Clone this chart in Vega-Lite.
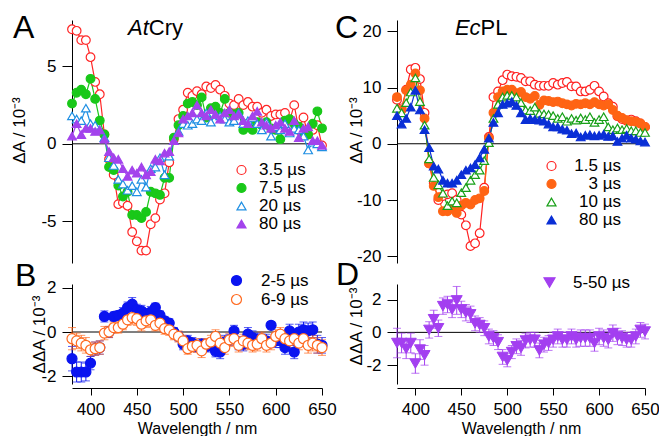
{
"$schema":"https://vega.github.io/schema/vega-lite/v6.json",
"padding":{"left":10,"top":11,"right":0,"bottom":0},
"bounds":"flush",
"columns":2,
"spacing":{"row":21,"column":75},
"resolve":{"scale":{"color":"independent","stroke":"independent","fill":"independent","shape":"independent","x":"independent","y":"independent"},"legend":{"color":"independent","stroke":"independent","fill":"independent","shape":"independent"}},
"config":{
 "font":"Liberation Sans",
 "view":{"stroke":null},
 "axis":{"grid":false,"domainColor":"black","tickColor":"black","labelColor":"black","titleColor":"black","labelFont":"Liberation Sans","titleFont":"Liberation Sans","labelFontSize":17,"titleFontWeight":"normal","labelFlush":false,"labelOverlap":false,"labelBound":false},
 "axisY":{"tickSize":10,"labelPadding":6,"titleFontSize":17},
 "axisX":{"tickSize":7,"labelPadding":6,"titlePadding":3,"titleFontSize":16,"offset":4},
 "legend":{"labelFont":"Liberation Sans","labelFontSize":17,"labelColor":"black","padding":0,"rowPadding":0,"symbolStrokeWidth":1.2},
 "title":{"font":"Liberation Sans","fontSize":32,"fontWeight":"normal","anchor":"start","frame":"group","color":"black","baseline":"alphabetic"}
},
"datasets":{
"A":[
{"w":380,"s":"3.5 µs","v":7.4},{"w":385,"s":"3.5 µs","v":7.3},{"w":390,"s":"3.5 µs","v":6.7},{"w":395,"s":"3.5 µs","v":6.7},{"w":400,"s":"3.5 µs","v":5.6},{"w":405,"s":"3.5 µs","v":4.0},{"w":410,"s":"3.5 µs","v":3.2},{"w":415,"s":"3.5 µs","v":0.6},{"w":420,"s":"3.5 µs","v":-1.0},{"w":425,"s":"3.5 µs","v":-2.0},{"w":430,"s":"3.5 µs","v":-3.9},{"w":435,"s":"3.5 µs","v":-3.8},{"w":440,"s":"3.5 µs","v":-4.0},{"w":445,"s":"3.5 µs","v":-5.7},{"w":450,"s":"3.5 µs","v":-6.3},{"w":455,"s":"3.5 µs","v":-6.9},{"w":460,"s":"3.5 µs","v":-6.9},{"w":465,"s":"3.5 µs","v":-5.2},{"w":470,"s":"3.5 µs","v":-4.8},{"w":475,"s":"3.5 µs","v":-3.6},{"w":480,"s":"3.5 µs","v":-3.2},{"w":485,"s":"3.5 µs","v":-1.2},{"w":490,"s":"3.5 µs","v":0.3},{"w":495,"s":"3.5 µs","v":1.6},{"w":500,"s":"3.5 µs","v":2.2},{"w":505,"s":"3.5 µs","v":3.3},{"w":510,"s":"3.5 µs","v":3.1},{"w":515,"s":"3.5 µs","v":3.4},{"w":520,"s":"3.5 µs","v":3.2},{"w":525,"s":"3.5 µs","v":3.7},{"w":530,"s":"3.5 µs","v":3.6},{"w":535,"s":"3.5 µs","v":3.8},{"w":540,"s":"3.5 µs","v":3.5},{"w":545,"s":"3.5 µs","v":3.1},{"w":550,"s":"3.5 µs","v":2.6},{"w":555,"s":"3.5 µs","v":2.5},{"w":560,"s":"3.5 µs","v":2.9},{"w":565,"s":"3.5 µs","v":2.5},{"w":570,"s":"3.5 µs","v":2.7},{"w":575,"s":"3.5 µs","v":2.4},{"w":580,"s":"3.5 µs","v":2.4},{"w":585,"s":"3.5 µs","v":2.0},{"w":590,"s":"3.5 µs","v":2.2},{"w":595,"s":"3.5 µs","v":1.8},{"w":600,"s":"3.5 µs","v":1.9},{"w":605,"s":"3.5 µs","v":1.9},{"w":610,"s":"3.5 µs","v":2.0},{"w":615,"s":"3.5 µs","v":1.5},{"w":620,"s":"3.5 µs","v":2.5},{"w":625,"s":"3.5 µs","v":0.9},{"w":630,"s":"3.5 µs","v":1.7},{"w":635,"s":"3.5 µs","v":0.6},{"w":640,"s":"3.5 µs","v":0.9},{"w":645,"s":"3.5 µs","v":1.2},{"w":650,"s":"3.5 µs","v":-0.1},
{"w":380,"s":"7.5 µs","v":2.6},{"w":385,"s":"7.5 µs","v":3.3},{"w":390,"s":"7.5 µs","v":3.5},{"w":395,"s":"7.5 µs","v":3.2},{"w":400,"s":"7.5 µs","v":4.2},{"w":405,"s":"7.5 µs","v":2.9},{"w":410,"s":"7.5 µs","v":1.5},{"w":415,"s":"7.5 µs","v":0.6},{"w":420,"s":"7.5 µs","v":-1.5},{"w":425,"s":"7.5 µs","v":-1.7},{"w":430,"s":"7.5 µs","v":-2.7},{"w":435,"s":"7.5 µs","v":-3.4},{"w":440,"s":"7.5 µs","v":-3.1},{"w":445,"s":"7.5 µs","v":-4.6},{"w":450,"s":"7.5 µs","v":-4.6},{"w":455,"s":"7.5 µs","v":-4.8},{"w":460,"s":"7.5 µs","v":-4.4},{"w":465,"s":"7.5 µs","v":-3.1},{"w":470,"s":"7.5 µs","v":-3.2},{"w":475,"s":"7.5 µs","v":-3.3},{"w":480,"s":"7.5 µs","v":-2.2},{"w":485,"s":"7.5 µs","v":-2.2},{"w":490,"s":"7.5 µs","v":0.4},{"w":495,"s":"7.5 µs","v":1.2},{"w":500,"s":"7.5 µs","v":1.8},{"w":505,"s":"7.5 µs","v":2.6},{"w":510,"s":"7.5 µs","v":2.7},{"w":515,"s":"7.5 µs","v":2.5},{"w":520,"s":"7.5 µs","v":3.0},{"w":525,"s":"7.5 µs","v":1.7},{"w":530,"s":"7.5 µs","v":2.3},{"w":535,"s":"7.5 µs","v":2.4},{"w":540,"s":"7.5 µs","v":2.0},{"w":545,"s":"7.5 µs","v":2.9},{"w":550,"s":"7.5 µs","v":2.0},{"w":555,"s":"7.5 µs","v":1.9},{"w":560,"s":"7.5 µs","v":2.0},{"w":565,"s":"7.5 µs","v":0.9},{"w":570,"s":"7.5 µs","v":1.3},{"w":575,"s":"7.5 µs","v":0.9},{"w":580,"s":"7.5 µs","v":1.4},{"w":585,"s":"7.5 µs","v":1.2},{"w":590,"s":"7.5 µs","v":1.4},{"w":595,"s":"7.5 µs","v":1.0},{"w":600,"s":"7.5 µs","v":0.9},{"w":605,"s":"7.5 µs","v":0.3},{"w":610,"s":"7.5 µs","v":1.5},{"w":615,"s":"7.5 µs","v":1.6},{"w":620,"s":"7.5 µs","v":1.3},{"w":625,"s":"7.5 µs","v":1.1},{"w":630,"s":"7.5 µs","v":0.7},{"w":635,"s":"7.5 µs","v":0.6},{"w":640,"s":"7.5 µs","v":1.3},{"w":645,"s":"7.5 µs","v":2.1},{"w":650,"s":"7.5 µs","v":1.0},
{"w":380,"s":"20 µs","v":1.8},{"w":385,"s":"20 µs","v":1.6},{"w":390,"s":"20 µs","v":1.5},{"w":395,"s":"20 µs","v":2.3},{"w":400,"s":"20 µs","v":1.3},{"w":405,"s":"20 µs","v":1.2},{"w":410,"s":"20 µs","v":0.9},{"w":415,"s":"20 µs","v":0.4},{"w":420,"s":"20 µs","v":-0.9},{"w":425,"s":"20 µs","v":-1.4},{"w":430,"s":"20 µs","v":-2.3},{"w":435,"s":"20 µs","v":-2.6},{"w":440,"s":"20 µs","v":-3.0},{"w":445,"s":"20 µs","v":-2.7},{"w":450,"s":"20 µs","v":-3.1},{"w":455,"s":"20 µs","v":-2.3},{"w":460,"s":"20 µs","v":-2.8},{"w":465,"s":"20 µs","v":-1.6},{"w":470,"s":"20 µs","v":-1.5},{"w":475,"s":"20 µs","v":-0.9},{"w":480,"s":"20 µs","v":-2.0},{"w":485,"s":"20 µs","v":-0.8},{"w":490,"s":"20 µs","v":0.2},{"w":495,"s":"20 µs","v":0.8},{"w":500,"s":"20 µs","v":1.3},{"w":505,"s":"20 µs","v":1.2},{"w":510,"s":"20 µs","v":1.3},{"w":515,"s":"20 µs","v":1.6},{"w":520,"s":"20 µs","v":1.5},{"w":525,"s":"20 µs","v":2.0},{"w":530,"s":"20 µs","v":1.4},{"w":535,"s":"20 µs","v":1.9},{"w":540,"s":"20 µs","v":1.8},{"w":545,"s":"20 µs","v":1.6},{"w":550,"s":"20 µs","v":1.4},{"w":555,"s":"20 µs","v":1.5},{"w":560,"s":"20 µs","v":2.0},{"w":565,"s":"20 µs","v":1.3},{"w":570,"s":"20 µs","v":1.5},{"w":575,"s":"20 µs","v":1.7},{"w":580,"s":"20 µs","v":1.3},{"w":585,"s":"20 µs","v":0.9},{"w":590,"s":"20 µs","v":1.4},{"w":595,"s":"20 µs","v":0.5},{"w":600,"s":"20 µs","v":1.1},{"w":605,"s":"20 µs","v":0.9},{"w":610,"s":"20 µs","v":1.3},{"w":615,"s":"20 µs","v":0.7},{"w":620,"s":"20 µs","v":1.0},{"w":625,"s":"20 µs","v":0.9},{"w":630,"s":"20 µs","v":0.5},{"w":635,"s":"20 µs","v":-0.4},{"w":640,"s":"20 µs","v":0.1},{"w":645,"s":"20 µs","v":0.0},{"w":650,"s":"20 µs","v":-0.2},
{"w":380,"s":"80 µs","v":0.5},{"w":385,"s":"80 µs","v":1.3},{"w":390,"s":"80 µs","v":0.6},{"w":395,"s":"80 µs","v":1.0},{"w":400,"s":"80 µs","v":1.0},{"w":405,"s":"80 µs","v":0.8},{"w":410,"s":"80 µs","v":0.9},{"w":415,"s":"80 µs","v":0.3},{"w":420,"s":"80 µs","v":-0.5},{"w":425,"s":"80 µs","v":-0.9},{"w":430,"s":"80 µs","v":-1.0},{"w":435,"s":"80 µs","v":-1.6},{"w":440,"s":"80 µs","v":-2.1},{"w":445,"s":"80 µs","v":-1.7},{"w":450,"s":"80 µs","v":-1.9},{"w":455,"s":"80 µs","v":-1.5},{"w":460,"s":"80 µs","v":-2.0},{"w":465,"s":"80 µs","v":-1.8},{"w":470,"s":"80 µs","v":-1.0},{"w":475,"s":"80 µs","v":-1.1},{"w":480,"s":"80 µs","v":-0.6},{"w":485,"s":"80 µs","v":-0.5},{"w":490,"s":"80 µs","v":0.2},{"w":495,"s":"80 µs","v":0.7},{"w":500,"s":"80 µs","v":1.6},{"w":505,"s":"80 µs","v":1.8},{"w":510,"s":"80 µs","v":2.0},{"w":515,"s":"80 µs","v":2.5},{"w":520,"s":"80 µs","v":2.0},{"w":525,"s":"80 µs","v":1.8},{"w":530,"s":"80 µs","v":2.2},{"w":535,"s":"80 µs","v":1.9},{"w":540,"s":"80 µs","v":1.6},{"w":545,"s":"80 µs","v":2.0},{"w":550,"s":"80 µs","v":2.2},{"w":555,"s":"80 µs","v":1.8},{"w":560,"s":"80 µs","v":1.9},{"w":565,"s":"80 µs","v":1.5},{"w":570,"s":"80 µs","v":1.3},{"w":575,"s":"80 µs","v":1.8},{"w":580,"s":"80 µs","v":2.1},{"w":585,"s":"80 µs","v":1.4},{"w":590,"s":"80 µs","v":1.2},{"w":595,"s":"80 µs","v":1.0},{"w":600,"s":"80 µs","v":1.2},{"w":605,"s":"80 µs","v":1.4},{"w":610,"s":"80 µs","v":1.0},{"w":615,"s":"80 µs","v":0.8},{"w":620,"s":"80 µs","v":1.5},{"w":625,"s":"80 µs","v":0.4},{"w":630,"s":"80 µs","v":1.0},{"w":635,"s":"80 µs","v":1.1},{"w":640,"s":"80 µs","v":0.2},{"w":645,"s":"80 µs","v":0.2},{"w":650,"s":"80 µs","v":-0.1}
],
"C":[
{"w":380,"s":"1.5 µs","v":7.8},{"w":385,"s":"1.5 µs","v":6.3},{"w":390,"s":"1.5 µs","v":9.6},{"w":395,"s":"1.5 µs","v":13.2},{"w":400,"s":"1.5 µs","v":13.5},{"w":405,"s":"1.5 µs","v":11.5},{"w":410,"s":"1.5 µs","v":5.5},{"w":415,"s":"1.5 µs","v":-3.5},{"w":420,"s":"1.5 µs","v":-7.0},{"w":425,"s":"1.5 µs","v":-10.0},{"w":430,"s":"1.5 µs","v":-9.3},{"w":435,"s":"1.5 µs","v":-9.0},{"w":440,"s":"1.5 µs","v":-8.8},{"w":445,"s":"1.5 µs","v":-10.0},{"w":450,"s":"1.5 µs","v":-12.6},{"w":455,"s":"1.5 µs","v":-14.5},{"w":460,"s":"1.5 µs","v":-18.2},{"w":465,"s":"1.5 µs","v":-17.7},{"w":470,"s":"1.5 µs","v":-15.9},{"w":475,"s":"1.5 µs","v":-7.8},{"w":480,"s":"1.5 µs","v":1.2},{"w":485,"s":"1.5 µs","v":8.3},{"w":490,"s":"1.5 µs","v":9.3},{"w":495,"s":"1.5 µs","v":11.3},{"w":500,"s":"1.5 µs","v":12.3},{"w":505,"s":"1.5 µs","v":12.0},{"w":510,"s":"1.5 µs","v":11.9},{"w":515,"s":"1.5 µs","v":11.7},{"w":520,"s":"1.5 µs","v":11.1},{"w":525,"s":"1.5 µs","v":11.1},{"w":530,"s":"1.5 µs","v":10.5},{"w":535,"s":"1.5 µs","v":10.3},{"w":540,"s":"1.5 µs","v":10.3},{"w":545,"s":"1.5 µs","v":10.3},{"w":550,"s":"1.5 µs","v":10.8},{"w":555,"s":"1.5 µs","v":10.5},{"w":560,"s":"1.5 µs","v":10.8},{"w":565,"s":"1.5 µs","v":11.0},{"w":570,"s":"1.5 µs","v":10.2},{"w":575,"s":"1.5 µs","v":10.2},{"w":580,"s":"1.5 µs","v":9.3},{"w":585,"s":"1.5 µs","v":9.3},{"w":590,"s":"1.5 µs","v":9.6},{"w":595,"s":"1.5 µs","v":10.3},{"w":600,"s":"1.5 µs","v":9.3},{"w":605,"s":"1.5 µs","v":8.4},{"w":610,"s":"1.5 µs","v":7.2},{"w":615,"s":"1.5 µs","v":6.6},{"w":620,"s":"1.5 µs","v":4.9},{"w":625,"s":"1.5 µs","v":4.4},{"w":630,"s":"1.5 µs","v":4.1},{"w":635,"s":"1.5 µs","v":4.3},{"w":640,"s":"1.5 µs","v":4.0},{"w":645,"s":"1.5 µs","v":3.6},{"w":650,"s":"1.5 µs","v":3.0},
{"w":380,"s":"3 µs","v":8.3},{"w":385,"s":"3 µs","v":6.0},{"w":390,"s":"3 µs","v":9.5},{"w":395,"s":"3 µs","v":10.5},{"w":400,"s":"3 µs","v":12.5},{"w":405,"s":"3 µs","v":9.5},{"w":410,"s":"3 µs","v":4.5},{"w":415,"s":"3 µs","v":-3.5},{"w":420,"s":"3 µs","v":-7.5},{"w":425,"s":"3 µs","v":-9.5},{"w":430,"s":"3 µs","v":-12.0},{"w":435,"s":"3 µs","v":-12.0},{"w":440,"s":"3 µs","v":-11.5},{"w":445,"s":"3 µs","v":-12.3},{"w":450,"s":"3 µs","v":-11.0},{"w":455,"s":"3 µs","v":-10.5},{"w":460,"s":"3 µs","v":-10.8},{"w":465,"s":"3 µs","v":-10.0},{"w":470,"s":"3 µs","v":-9.7},{"w":475,"s":"3 µs","v":-8.4},{"w":480,"s":"3 µs","v":1.0},{"w":485,"s":"3 µs","v":5.5},{"w":490,"s":"3 µs","v":8.3},{"w":495,"s":"3 µs","v":9.3},{"w":500,"s":"3 µs","v":9.6},{"w":505,"s":"3 µs","v":9.6},{"w":510,"s":"3 µs","v":9.0},{"w":515,"s":"3 µs","v":9.2},{"w":520,"s":"3 µs","v":8.3},{"w":525,"s":"3 µs","v":8.0},{"w":530,"s":"3 µs","v":8.5},{"w":535,"s":"3 µs","v":6.9},{"w":540,"s":"3 µs","v":7.7},{"w":545,"s":"3 µs","v":7.6},{"w":550,"s":"3 µs","v":7.4},{"w":555,"s":"3 µs","v":7.5},{"w":560,"s":"3 µs","v":7.2},{"w":565,"s":"3 µs","v":7.0},{"w":570,"s":"3 µs","v":6.8},{"w":575,"s":"3 µs","v":7.1},{"w":580,"s":"3 µs","v":7.0},{"w":585,"s":"3 µs","v":7.2},{"w":590,"s":"3 µs","v":7.0},{"w":595,"s":"3 µs","v":7.4},{"w":600,"s":"3 µs","v":7.0},{"w":605,"s":"3 µs","v":6.8},{"w":610,"s":"3 µs","v":7.0},{"w":615,"s":"3 µs","v":6.0},{"w":620,"s":"3 µs","v":5.0},{"w":625,"s":"3 µs","v":4.6},{"w":630,"s":"3 µs","v":4.2},{"w":635,"s":"3 µs","v":4.0},{"w":640,"s":"3 µs","v":3.9},{"w":645,"s":"3 µs","v":3.6},{"w":650,"s":"3 µs","v":3.0},
{"w":380,"s":"10 µs","v":6.3},{"w":385,"s":"10 µs","v":5.5},{"w":390,"s":"10 µs","v":7.3},{"w":395,"s":"10 µs","v":9.2},{"w":400,"s":"10 µs","v":11.7},{"w":405,"s":"10 µs","v":7.5},{"w":410,"s":"10 µs","v":3.3},{"w":415,"s":"10 µs","v":-2.7},{"w":420,"s":"10 µs","v":-6.0},{"w":425,"s":"10 µs","v":-7.3},{"w":430,"s":"10 µs","v":-8.8},{"w":435,"s":"10 µs","v":-11.0},{"w":440,"s":"10 µs","v":-10.2},{"w":445,"s":"10 µs","v":-10.5},{"w":450,"s":"10 µs","v":-8.7},{"w":455,"s":"10 µs","v":-7.8},{"w":460,"s":"10 µs","v":-6.5},{"w":465,"s":"10 µs","v":-5.5},{"w":470,"s":"10 µs","v":-4.7},{"w":475,"s":"10 µs","v":-3.0},{"w":480,"s":"10 µs","v":0.2},{"w":485,"s":"10 µs","v":4.5},{"w":490,"s":"10 µs","v":7.0},{"w":495,"s":"10 µs","v":8.3},{"w":500,"s":"10 µs","v":8.6},{"w":505,"s":"10 µs","v":8.6},{"w":510,"s":"10 µs","v":8.3},{"w":515,"s":"10 µs","v":7.3},{"w":520,"s":"10 µs","v":6.0},{"w":525,"s":"10 µs","v":5.9},{"w":530,"s":"10 µs","v":6.5},{"w":535,"s":"10 µs","v":5.4},{"w":540,"s":"10 µs","v":5.3},{"w":545,"s":"10 µs","v":5.2},{"w":550,"s":"10 µs","v":5.0},{"w":555,"s":"10 µs","v":4.5},{"w":560,"s":"10 µs","v":4.8},{"w":565,"s":"10 µs","v":4.0},{"w":570,"s":"10 µs","v":4.5},{"w":575,"s":"10 µs","v":4.2},{"w":580,"s":"10 µs","v":4.6},{"w":585,"s":"10 µs","v":4.3},{"w":590,"s":"10 µs","v":4.8},{"w":595,"s":"10 µs","v":3.8},{"w":600,"s":"10 µs","v":4.3},{"w":605,"s":"10 µs","v":4.8},{"w":610,"s":"10 µs","v":3.0},{"w":615,"s":"10 µs","v":2.5},{"w":620,"s":"10 µs","v":2.8},{"w":625,"s":"10 µs","v":2.5},{"w":630,"s":"10 µs","v":2.7},{"w":635,"s":"10 µs","v":2.3},{"w":640,"s":"10 µs","v":2.3},{"w":645,"s":"10 µs","v":2.0},{"w":650,"s":"10 µs","v":2.0},
{"w":380,"s":"80 µs","v":5.0},{"w":385,"s":"80 µs","v":3.5},{"w":390,"s":"80 µs","v":4.5},{"w":395,"s":"80 µs","v":6.5},{"w":400,"s":"80 µs","v":9.5},{"w":405,"s":"80 µs","v":6.0},{"w":410,"s":"80 µs","v":2.5},{"w":415,"s":"80 µs","v":-0.7},{"w":420,"s":"80 µs","v":-4.0},{"w":425,"s":"80 µs","v":-4.5},{"w":430,"s":"80 µs","v":-6.5},{"w":435,"s":"80 µs","v":-7.0},{"w":440,"s":"80 µs","v":-7.0},{"w":445,"s":"80 µs","v":-6.5},{"w":450,"s":"80 µs","v":-5.5},{"w":455,"s":"80 µs","v":-4.7},{"w":460,"s":"80 µs","v":-4.3},{"w":465,"s":"80 µs","v":-3.7},{"w":470,"s":"80 µs","v":-2.5},{"w":475,"s":"80 µs","v":-1.0},{"w":480,"s":"80 µs","v":1.0},{"w":485,"s":"80 µs","v":3.8},{"w":490,"s":"80 µs","v":5.5},{"w":495,"s":"80 µs","v":7.0},{"w":500,"s":"80 µs","v":7.2},{"w":505,"s":"80 µs","v":7.5},{"w":510,"s":"80 µs","v":6.8},{"w":515,"s":"80 µs","v":5.5},{"w":520,"s":"80 µs","v":4.3},{"w":525,"s":"80 µs","v":4.5},{"w":530,"s":"80 µs","v":4.3},{"w":535,"s":"80 µs","v":4.2},{"w":540,"s":"80 µs","v":4.0},{"w":545,"s":"80 µs","v":3.5},{"w":550,"s":"80 µs","v":3.0},{"w":555,"s":"80 µs","v":3.0},{"w":560,"s":"80 µs","v":2.6},{"w":565,"s":"80 µs","v":2.4},{"w":570,"s":"80 µs","v":1.8},{"w":575,"s":"80 µs","v":1.9},{"w":580,"s":"80 µs","v":1.2},{"w":585,"s":"80 µs","v":1.5},{"w":590,"s":"80 µs","v":1.6},{"w":595,"s":"80 µs","v":1.4},{"w":600,"s":"80 µs","v":1.5},{"w":605,"s":"80 µs","v":1.7},{"w":610,"s":"80 µs","v":1.3},{"w":615,"s":"80 µs","v":1.4},{"w":620,"s":"80 µs","v":0.4},{"w":625,"s":"80 µs","v":1.0},{"w":630,"s":"80 µs","v":1.5},{"w":635,"s":"80 µs","v":1.0},{"w":640,"s":"80 µs","v":0.8},{"w":645,"s":"80 µs","v":0.5},{"w":650,"s":"80 µs","v":0.3}
],
"B":[
{"w":380,"s":"2-5 µs","v":-1.2,"e":0.55},{"w":385,"s":"2-5 µs","v":-1.8,"e":0.45},{"w":390,"s":"2-5 µs","v":-1.8,"e":0.45},{"w":395,"s":"2-5 µs","v":-1.8,"e":0.4},{"w":400,"s":"2-5 µs","v":-1.4,"e":0.3},{"w":405,"s":"2-5 µs","v":-0.75,"e":0.3},{"w":410,"s":"2-5 µs","v":-0.7,"e":0.3},{"w":415,"s":"2-5 µs","v":0.7,"e":0.25},{"w":420,"s":"2-5 µs","v":0.0,"e":0.25},{"w":425,"s":"2-5 µs","v":0.7,"e":0.2},{"w":430,"s":"2-5 µs","v":0.75,"e":0.2},{"w":435,"s":"2-5 µs","v":0.85,"e":0.25},{"w":440,"s":"2-5 µs","v":1.1,"e":0.25},{"w":445,"s":"2-5 µs","v":1.25,"e":0.3},{"w":450,"s":"2-5 µs","v":1.0,"e":0.25},{"w":455,"s":"2-5 µs","v":0.95,"e":0.25},{"w":460,"s":"2-5 µs","v":0.8,"e":0.25},{"w":465,"s":"2-5 µs","v":0.9,"e":0.25},{"w":470,"s":"2-5 µs","v":1.1,"e":0.2},{"w":475,"s":"2-5 µs","v":0.75,"e":0.2},{"w":480,"s":"2-5 µs","v":0.5,"e":0.2},{"w":485,"s":"2-5 µs","v":0.4,"e":0.2},{"w":490,"s":"2-5 µs","v":0.0,"e":0.2},{"w":495,"s":"2-5 µs","v":-0.2,"e":0.2},{"w":500,"s":"2-5 µs","v":-0.55,"e":0.25},{"w":505,"s":"2-5 µs","v":-0.4,"e":0.25},{"w":510,"s":"2-5 µs","v":-0.5,"e":0.25},{"w":515,"s":"2-5 µs","v":-0.65,"e":0.25},{"w":520,"s":"2-5 µs","v":-0.55,"e":0.25},{"w":525,"s":"2-5 µs","v":-0.65,"e":0.25},{"w":530,"s":"2-5 µs","v":-0.6,"e":0.25},{"w":535,"s":"2-5 µs","v":-0.87,"e":0.25},{"w":540,"s":"2-5 µs","v":-0.9,"e":0.3},{"w":545,"s":"2-5 µs","v":-0.45,"e":0.3},{"w":550,"s":"2-5 µs","v":-0.35,"e":0.25},{"w":555,"s":"2-5 µs","v":0.05,"e":0.25},{"w":560,"s":"2-5 µs","v":-0.5,"e":0.3},{"w":565,"s":"2-5 µs","v":-0.55,"e":0.3},{"w":570,"s":"2-5 µs","v":-0.1,"e":0.3},{"w":575,"s":"2-5 µs","v":-0.25,"e":0.3},{"w":580,"s":"2-5 µs","v":-0.35,"e":0.3},{"w":585,"s":"2-5 µs","v":-0.4,"e":0.3},{"w":590,"s":"2-5 µs","v":-0.4,"e":0.3},{"w":595,"s":"2-5 µs","v":0.3,"e":0.15},{"w":600,"s":"2-5 µs","v":-0.4,"e":0.3},{"w":605,"s":"2-5 µs","v":-0.4,"e":0.3},{"w":610,"s":"2-5 µs","v":-0.7,"e":0.3},{"w":615,"s":"2-5 µs","v":0.05,"e":0.3},{"w":620,"s":"2-5 µs","v":-0.9,"e":0.3},{"w":625,"s":"2-5 µs","v":0.0,"e":0.35},{"w":630,"s":"2-5 µs","v":0.1,"e":0.35},{"w":635,"s":"2-5 µs","v":0.05,"e":0.35},{"w":640,"s":"2-5 µs","v":0.1,"e":0.35},{"w":645,"s":"2-5 µs","v":-0.55,"e":0.4},{"w":650,"s":"2-5 µs","v":-0.6,"e":0.35},
{"w":380,"s":"6-9 µs","v":-0.3,"e":0.5},{"w":385,"s":"6-9 µs","v":-0.4,"e":0.35},{"w":390,"s":"6-9 µs","v":-0.5,"e":0.35},{"w":395,"s":"6-9 µs","v":-0.6,"e":0.35},{"w":400,"s":"6-9 µs","v":-0.8,"e":0.3},{"w":405,"s":"6-9 µs","v":-0.75,"e":0.3},{"w":410,"s":"6-9 µs","v":-0.7,"e":0.3},{"w":415,"s":"6-9 µs","v":-0.05,"e":0.3},{"w":420,"s":"6-9 µs","v":0.0,"e":0.25},{"w":425,"s":"6-9 µs","v":0.2,"e":0.25},{"w":430,"s":"6-9 µs","v":0.2,"e":0.25},{"w":435,"s":"6-9 µs","v":0.35,"e":0.25},{"w":440,"s":"6-9 µs","v":0.55,"e":0.25},{"w":445,"s":"6-9 µs","v":0.65,"e":0.3},{"w":450,"s":"6-9 µs","v":0.6,"e":0.3},{"w":455,"s":"6-9 µs","v":0.35,"e":0.3},{"w":460,"s":"6-9 µs","v":0.5,"e":0.3},{"w":465,"s":"6-9 µs","v":0.55,"e":0.3},{"w":470,"s":"6-9 µs","v":0.3,"e":0.25},{"w":475,"s":"6-9 µs","v":0.4,"e":0.25},{"w":480,"s":"6-9 µs","v":0.15,"e":0.25},{"w":485,"s":"6-9 µs","v":0.1,"e":0.25},{"w":490,"s":"6-9 µs","v":-0.1,"e":0.25},{"w":495,"s":"6-9 µs","v":-0.2,"e":0.25},{"w":500,"s":"6-9 µs","v":-0.4,"e":0.25},{"w":505,"s":"6-9 µs","v":-0.75,"e":0.25},{"w":510,"s":"6-9 µs","v":-0.65,"e":0.25},{"w":515,"s":"6-9 µs","v":-0.6,"e":0.3},{"w":520,"s":"6-9 µs","v":-0.85,"e":0.3},{"w":525,"s":"6-9 µs","v":-0.55,"e":0.25},{"w":530,"s":"6-9 µs","v":-0.45,"e":0.3},{"w":535,"s":"6-9 µs","v":-0.2,"e":0.3},{"w":540,"s":"6-9 µs","v":-0.5,"e":0.3},{"w":545,"s":"6-9 µs","v":-0.7,"e":0.3},{"w":550,"s":"6-9 µs","v":-0.35,"e":0.3},{"w":555,"s":"6-9 µs","v":-0.3,"e":0.3},{"w":560,"s":"6-9 µs","v":-0.6,"e":0.3},{"w":565,"s":"6-9 µs","v":-0.4,"e":0.3},{"w":570,"s":"6-9 µs","v":-0.5,"e":0.3},{"w":575,"s":"6-9 µs","v":-0.6,"e":0.3},{"w":580,"s":"6-9 µs","v":-0.55,"e":0.3},{"w":585,"s":"6-9 µs","v":-0.3,"e":0.3},{"w":590,"s":"6-9 µs","v":-0.6,"e":0.3},{"w":595,"s":"6-9 µs","v":-0.5,"e":0.3},{"w":600,"s":"6-9 µs","v":-0.2,"e":0.3},{"w":605,"s":"6-9 µs","v":-0.1,"e":0.3},{"w":610,"s":"6-9 µs","v":-0.3,"e":0.3},{"w":615,"s":"6-9 µs","v":-0.4,"e":0.3},{"w":620,"s":"6-9 µs","v":-0.3,"e":0.3},{"w":625,"s":"6-9 µs","v":-0.5,"e":0.3},{"w":630,"s":"6-9 µs","v":-0.3,"e":0.35},{"w":635,"s":"6-9 µs","v":-0.6,"e":0.35},{"w":640,"s":"6-9 µs","v":-0.5,"e":0.35},{"w":645,"s":"6-9 µs","v":-0.6,"e":0.35},{"w":650,"s":"6-9 µs","v":-0.7,"e":0.35}
],
"D":[
{"w":380,"s":"5-50 µs","v":-0.65,"e":0.9},{"w":385,"s":"5-50 µs","v":-0.65,"e":0.6},{"w":390,"s":"5-50 µs","v":-1.0,"e":0.6},{"w":395,"s":"5-50 µs","v":-0.65,"e":0.6},{"w":400,"s":"5-50 µs","v":-1.9,"e":0.6},{"w":405,"s":"5-50 µs","v":-1.05,"e":0.6},{"w":410,"s":"5-50 µs","v":-1.4,"e":0.6},{"w":415,"s":"5-50 µs","v":0.15,"e":0.5},{"w":420,"s":"5-50 µs","v":0.8,"e":0.55},{"w":425,"s":"5-50 µs","v":0.25,"e":0.5},{"w":430,"s":"5-50 µs","v":1.6,"e":0.5},{"w":435,"s":"5-50 µs","v":1.7,"e":0.5},{"w":440,"s":"5-50 µs","v":1.4,"e":0.5},{"w":445,"s":"5-50 µs","v":1.95,"e":0.85},{"w":450,"s":"5-50 µs","v":1.4,"e":0.5},{"w":455,"s":"5-50 µs","v":1.2,"e":0.5},{"w":460,"s":"5-50 µs","v":1.1,"e":0.5},{"w":465,"s":"5-50 µs","v":0.55,"e":0.45},{"w":470,"s":"5-50 µs","v":0.45,"e":0.45},{"w":475,"s":"5-50 µs","v":0.25,"e":0.45},{"w":480,"s":"5-50 µs","v":-0.25,"e":0.45},{"w":485,"s":"5-50 µs","v":-0.35,"e":0.45},{"w":490,"s":"5-50 µs","v":-0.6,"e":0.45},{"w":495,"s":"5-50 µs","v":-1.5,"e":0.45},{"w":500,"s":"5-50 µs","v":-1.7,"e":0.4},{"w":505,"s":"5-50 µs","v":-1.2,"e":0.4},{"w":510,"s":"5-50 µs","v":-0.85,"e":0.45},{"w":515,"s":"5-50 µs","v":-0.95,"e":0.45},{"w":520,"s":"5-50 µs","v":-0.5,"e":0.45},{"w":525,"s":"5-50 µs","v":-0.45,"e":0.45},{"w":530,"s":"5-50 µs","v":-0.45,"e":0.45},{"w":535,"s":"5-50 µs","v":-1.1,"e":0.45},{"w":540,"s":"5-50 µs","v":-0.75,"e":0.45},{"w":545,"s":"5-50 µs","v":-0.65,"e":0.45},{"w":550,"s":"5-50 µs","v":-0.45,"e":0.45},{"w":555,"s":"5-50 µs","v":-0.25,"e":0.45},{"w":560,"s":"5-50 µs","v":-0.45,"e":0.45},{"w":565,"s":"5-50 µs","v":-0.45,"e":0.45},{"w":570,"s":"5-50 µs","v":-0.25,"e":0.45},{"w":575,"s":"5-50 µs","v":-0.45,"e":0.45},{"w":580,"s":"5-50 µs","v":-0.35,"e":0.5},{"w":585,"s":"5-50 µs","v":-0.35,"e":0.5},{"w":590,"s":"5-50 µs","v":-0.35,"e":0.5},{"w":595,"s":"5-50 µs","v":-0.65,"e":0.5},{"w":600,"s":"5-50 µs","v":-0.25,"e":0.5},{"w":605,"s":"5-50 µs","v":-0.35,"e":0.5},{"w":610,"s":"5-50 µs","v":-0.45,"e":0.5},{"w":615,"s":"5-50 µs","v":-0.05,"e":0.5},{"w":620,"s":"5-50 µs","v":-0.25,"e":0.5},{"w":625,"s":"5-50 µs","v":-0.35,"e":0.45},{"w":630,"s":"5-50 µs","v":-0.45,"e":0.45},{"w":635,"s":"5-50 µs","v":-0.45,"e":0.45},{"w":640,"s":"5-50 µs","v":-0.25,"e":0.45},{"w":645,"s":"5-50 µs","v":0.15,"e":0.45},{"w":650,"s":"5-50 µs","v":0.05,"e":0.45}
]
},
"concat":[
{
 "width":250,"height":243,
 "title":{"text":"A","dx":-59,"offset":-27.5},
 "layer":[
  {"data":{"values":[{}]},"mark":{"type":"rule","color":"black","strokeWidth":1},
   "encoding":{"y":{"datum":0,"type":"quantitative","title":"ΔA / 10⁻³"}}},
  {"data":{"name":"A"},"mark":{"type":"line","strokeWidth":1.2},
   "encoding":{
    "x":{"field":"w","type":"quantitative","scale":{"domain":[380,650],"nice":false,"zero":false},"axis":null},
    "y":{"field":"v","type":"quantitative","title":"ΔA / 10⁻³","scale":{"domain":[-7.7,8.0],"nice":false,"zero":false},"axis":{"values":[-5,0,5],"titlePadding":12,"titleY":110,"labelExpr":"replace(datum.label,'−','-')"}},
    "stroke":{"field":"s","type":"nominal","scale":{"domain":["3.5 µs","7.5 µs","20 µs","80 µs"],"range":["#ff2626","#19c819","#1f8fe3","#a343ec"]}}}},
  {"data":{"name":"A"},"mark":{"type":"point","size":75,"strokeWidth":1.2,"opacity":1},
   "encoding":{
    "x":{"field":"w","type":"quantitative"},
    "y":{"field":"v","type":"quantitative","title":"ΔA / 10⁻³"},
    "stroke":{"field":"s","type":"nominal","scale":{"domain":["3.5 µs","7.5 µs","20 µs","80 µs"],"range":["#ff2626","#19c819","#1f8fe3","#a343ec"]},
      "legend":{"title":null,"orient":"none","legendX":161,"legendY":141.5,"symbolSize":81,"labelOffset":9}},
    "fill":{"field":"s","type":"nominal","scale":{"domain":["3.5 µs","7.5 µs","20 µs","80 µs"],"range":["white","#19c819","white","#a343ec"]},
      "legend":{"title":null,"orient":"none","legendX":161,"legendY":141.5,"symbolSize":81,"labelOffset":9}},
    "shape":{"field":"s","type":"nominal","scale":{"domain":["3.5 µs","7.5 µs","20 µs","80 µs"],"range":["circle","circle","triangle-up","triangle-up"]},
      "legend":{"title":null,"orient":"none","legendX":161,"legendY":141.5,"symbolSize":81,"labelOffset":9}}}},
  {"data":{"values":[{}]},"mark":{"type":"text","text":"At","fontStyle":"italic","fontSize":22,"align":"right","baseline":"alphabetic","color":"black","font":"Liberation Sans"},
   "encoding":{"x":{"datum":463,"type":"quantitative"},"y":{"datum":7.0,"type":"quantitative","title":"ΔA / 10⁻³"}}},
  {"data":{"values":[{}]},"mark":{"type":"text","text":"Cry","fontSize":22,"align":"left","baseline":"alphabetic","color":"black","font":"Liberation Sans"},
   "encoding":{"x":{"datum":463,"type":"quantitative"},"y":{"datum":7.0,"type":"quantitative","title":"ΔA / 10⁻³"}}}
 ]
},
{
 "width":248,"height":243,
 "title":{"text":"C","dx":-62,"offset":-27.5},
 "layer":[
  {"data":{"values":[{}]},"mark":{"type":"rule","color":"black","strokeWidth":1},
   "encoding":{"y":{"datum":0,"type":"quantitative","title":"ΔA / 10⁻³"}}},
  {"data":{"name":"C"},"mark":{"type":"line","strokeWidth":1.2},
   "encoding":{
    "x":{"field":"w","type":"quantitative","scale":{"domain":[380,650],"nice":false,"zero":false},"axis":null},
    "y":{"field":"v","type":"quantitative","title":"ΔA / 10⁻³","scale":{"domain":[-21.2,22.0],"nice":false,"zero":false},"axis":{"values":[-20,-10,0,10,20],"titlePadding":-9,"titleY":110,"labelExpr":"replace(datum.label,'−','-')"}},
    "stroke":{"field":"s","type":"nominal","scale":{"domain":["1.5 µs","3 µs","10 µs","80 µs"],"range":["#ff2020","#ff6414","#18a018","#0a2fd6"]}}}},
  {"data":{"name":"C"},"mark":{"type":"point","size":75,"strokeWidth":1.2,"opacity":1},
   "encoding":{
    "x":{"field":"w","type":"quantitative"},
    "y":{"field":"v","type":"quantitative","title":"ΔA / 10⁻³"},
    "stroke":{"field":"s","type":"nominal","scale":{"domain":["1.5 µs","3 µs","10 µs","80 µs"],"range":["#ff2020","#ff6414","#18a018","#0a2fd6"]},
      "legend":{"title":null,"orient":"none","legendX":146,"legendY":137.5,"symbolSize":81,"labelOffset":61,"labelAlign":"right"}},
    "fill":{"field":"s","type":"nominal","scale":{"domain":["1.5 µs","3 µs","10 µs","80 µs"],"range":["white","#ff6414","white","#0a2fd6"]},
      "legend":{"title":null,"orient":"none","legendX":146,"legendY":137.5,"symbolSize":81,"labelOffset":61,"labelAlign":"right"}},
    "shape":{"field":"s","type":"nominal","scale":{"domain":["1.5 µs","3 µs","10 µs","80 µs"],"range":["circle","circle","triangle-up","triangle-up"]},
      "legend":{"title":null,"orient":"none","legendX":146,"legendY":137.5,"symbolSize":81,"labelOffset":61,"labelAlign":"right"}}}},
  {"data":{"values":[{}]},"mark":{"type":"text","text":"Ec","fontStyle":"italic","fontSize":22,"align":"right","baseline":"alphabetic","color":"black","font":"Liberation Sans"},
   "encoding":{"x":{"datum":471,"type":"quantitative"},"y":{"datum":19.3,"type":"quantitative","title":"ΔA / 10⁻³"}}},
  {"data":{"values":[{}]},"mark":{"type":"text","text":"PL","fontSize":22,"align":"left","baseline":"alphabetic","color":"black","font":"Liberation Sans"},
   "encoding":{"x":{"datum":471,"type":"quantitative"},"y":{"datum":19.3,"type":"quantitative","title":"ΔA / 10⁻³"}}}
 ]
},
{
 "width":250,"height":100,
 "title":{"text":"B","dx":-57,"offset":-21},
 "layer":[
  {"data":{"values":[{}]},"mark":{"type":"rule","color":"black","strokeWidth":1},
   "encoding":{"y":{"datum":0,"type":"quantitative","title":"ΔΔA / 10⁻³"}}},
  {"data":{"name":"B"},"mark":{"type":"errorbar","ticks":{"size":8,"thickness":1},"thickness":1},
   "encoding":{
    "x":{"field":"w","type":"quantitative","title":"Wavelength / nm","scale":{"domain":[380,650],"nice":false,"zero":false},"axis":{"values":[400,450,500,550,600,650]}},
    "y":{"field":"v","type":"quantitative","title":"ΔΔA / 10⁻³","scale":{"domain":[-2.34,2.16],"nice":false,"zero":false},"axis":{"values":[-2,0,2],"titlePadding":-8,"labelExpr":"replace(datum.label,'−','-')"}},
    "yError":{"field":"e"},
    "color":{"field":"s","type":"nominal","scale":{"range":["#0a14f0","#ff6a20"]},"legend":null}}},
  {"data":{"name":"B"},"mark":{"type":"point","size":100,"strokeWidth":1.2,"opacity":1},
   "encoding":{
    "x":{"field":"w","type":"quantitative","title":"Wavelength / nm"},
    "y":{"field":"v","type":"quantitative","title":"ΔΔA / 10⁻³"},
    "stroke":{"field":"s","type":"nominal","scale":{"domain":["2-5 µs","6-9 µs"],"range":["#0a14f0","#ff6a20"]},
      "legend":{"title":null,"orient":"none","legendX":156,"legendY":-12,"symbolSize":100,"labelOffset":16,"rowPadding":1}},
    "fill":{"field":"s","type":"nominal","scale":{"domain":["2-5 µs","6-9 µs"],"range":["#0a14f0","white"]},
      "legend":{"title":null,"orient":"none","legendX":156,"legendY":-12,"symbolSize":100,"labelOffset":16,"rowPadding":1}},
    "shape":{"field":"s","type":"nominal","scale":{"domain":["2-5 µs","6-9 µs"],"range":["circle","circle"]},
      "legend":{"title":null,"orient":"none","legendX":156,"legendY":-12,"symbolSize":100,"labelOffset":16,"rowPadding":1}}}}
 ]
},
{
 "width":248,"height":100,
 "title":{"text":"D","dx":-61,"offset":-17.5},
 "layer":[
  {"data":{"values":[{}]},"mark":{"type":"rule","color":"black","strokeWidth":1},
   "encoding":{"y":{"datum":0,"type":"quantitative","title":"ΔΔA / 10⁻³"}}},
  {"data":{"name":"D"},"mark":{"type":"errorbar","ticks":{"size":8,"thickness":1},"thickness":1},
   "encoding":{
    "x":{"field":"w","type":"quantitative","title":"Wavelength / nm","scale":{"domain":[380,650],"nice":false,"zero":false},"axis":{"values":[400,450,500,550,600,650]}},
    "y":{"field":"v","type":"quantitative","title":"ΔΔA / 10⁻³","scale":{"domain":[-3.15,2.95],"nice":false,"zero":false},"axis":{"values":[-2,0,2],"titlePadding":0,"titleY":42,"labelExpr":"replace(datum.label,'−','-')"}},
    "yError":{"field":"e"},
    "color":{"field":"s","type":"nominal","scale":{"range":["#a33ff0"]},"legend":null}}},
  {"data":{"name":"D"},"mark":{"type":"point","size":121,"strokeWidth":1,"opacity":1},
   "encoding":{
    "x":{"field":"w","type":"quantitative","title":"Wavelength / nm"},
    "y":{"field":"v","type":"quantitative","title":"ΔΔA / 10⁻³"},
    "stroke":{"field":"s","type":"nominal","scale":{"domain":["5-50 µs"],"range":["#a33ff0"]},
      "legend":{"title":null,"orient":"none","legendX":144,"legendY":-10,"symbolSize":121,"labelOffset":15}},
    "fill":{"field":"s","type":"nominal","scale":{"domain":["5-50 µs"],"range":["#a33ff0"]},
      "legend":{"title":null,"orient":"none","legendX":144,"legendY":-10,"symbolSize":121,"labelOffset":15}},
    "shape":{"field":"s","type":"nominal","scale":{"domain":["5-50 µs"],"range":["triangle-down"]},
      "legend":{"title":null,"orient":"none","legendX":144,"legendY":-10,"symbolSize":121,"labelOffset":15}}}}
 ]
}
]
}
